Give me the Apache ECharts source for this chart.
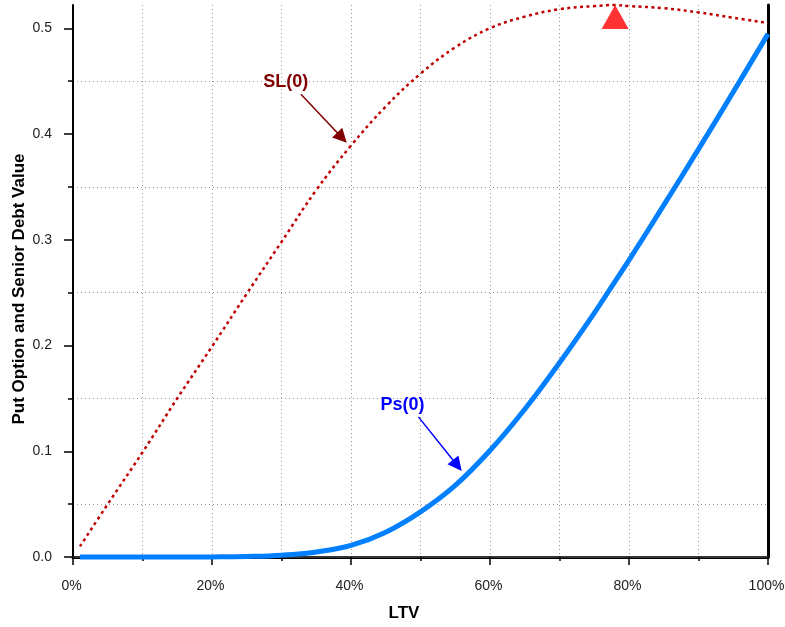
<!DOCTYPE html>
<html><head><meta charset="utf-8">
<script src="https://cdn.jsdelivr.net/npm/echarts@6/dist/echarts.min.js"></script>
<style>html,body{margin:0;padding:0;background:#fff}#c{width:785px;height:627px}</style>
</head><body><div id="c"></div>
<script>
// LTV in percent
const ltv = [1, 5, 10, 15, 20, 25, 30, 35, 40, 45, 50, 55, 60, 65, 70, 75, 78, 80, 85, 90, 95, 100];
const slValues = [0.010, 0.050, 0.099, 0.150, 0.199, 0.249, 0.298, 0.347, 0.389, 0.426, 0.457, 0.482, 0.500, 0.511, 0.518, 0.521, 0.522, 0.521, 0.519, 0.515, 0.510, 0.505];
const psValues = [0.000, 0.000, 0.000, 0.000, 0.0001, 0.0005, 0.0017, 0.0048, 0.0110, 0.0235, 0.0427, 0.0677, 0.1007, 0.1397, 0.1837, 0.2307, 0.2607, 0.2807, 0.3327, 0.3857, 0.4397, 0.4947];
const yMajorTicks = [0, 0.1, 0.2, 0.3, 0.4, 0.5];
const yMinorTicks = [0.05, 0.15, 0.25, 0.35, 0.45];
const peakPoint = [78, 0.522];
const slNote = { text: 'SL(0)', at: [30.6, 0.449], from: [32.8, 0.4377], to: [38.7, 0.3965] };
const psNote = { text: 'Ps(0)', at: [47.4, 0.1435], from: [49.7, 0.1325], to: [55.3, 0.0866] };

const FONT = "'Liberation Sans', Arial, sans-serif";
const gridLine = { show: true, lineStyle: { type: [1, 3], color: '#999', width: 1 } };

function zip(xs, ys) { return xs.map((x, i) => [x, ys[i]]); }

function note(n, color) {
  return {
    markPoint: {
      silent: true, symbol: 'rect', symbolSize: 1, itemStyle: { color: 'rgba(0,0,0,0)' },
      label: { show: true, position: 'inside', formatter: n.text, color: color, fontWeight: 'bold', fontSize: 18, fontFamily: FONT },
      data: [{ coord: n.at }]
    },
    markLine: {
      silent: true, symbol: ['none', 'triangle'], symbolSize: 14,
      label: { show: false },
      lineStyle: { color: color, width: 1.5, type: 'solid' },
      itemStyle: { color: color },
      data: [[{ coord: n.from }, { coord: n.to }]]
    }
  };
}

const chart = echarts.init(document.getElementById('c'));
chart.setOption({
  animation: false,
  backgroundColor: '#fff',
  grid: { left: 73, right: 17, top: 5, bottom: 70, containLabel: false, outerBoundsMode: 'none' },
  xAxis: [{
    type: 'value', min: 0, max: 100, interval: 20, position: 'bottom',
    name: 'LTV', nameLocation: 'middle', nameGap: 48,
    nameTextStyle: { fontWeight: 'bold', fontSize: 17, color: '#000', fontFamily: FONT, padding: [0, 33, 0, 0] },
    axisLine: { show: true, lineStyle: { color: '#000', width: 3 } },
    axisTick: { show: true, length: 8, lineStyle: { color: '#000', width: 1.5 } },
    minorTick: { show: true, splitNumber: 2, length: 4, lineStyle: { color: '#000', width: 1.5 } },
    axisLabel: { formatter: '{value}%', fontSize: 14, color: '#222', margin: 22, fontFamily: FONT, padding: [0, 3, 0, 0] },
    splitLine: gridLine,
    minorSplitLine: gridLine
  }, {
    type: 'value', min: 0, max: 100, position: 'top',
    axisLine: { show: true, lineStyle: { color: '#333', width: 2 } },
    axisTick: { show: false }, axisLabel: { show: false }, splitLine: { show: false }
  }],
  yAxis: [{
    type: 'value', min: 0, max: 0.522, interval: 0.1, position: 'left',
    name: 'Put Option and Senior Debt Value', nameLocation: 'middle', nameGap: 45, nameRotate: 90, nameMoveOverlap: false,
    nameTextStyle: { fontWeight: 'bold', fontSize: 17, color: '#000', fontFamily: FONT, padding: [0, 16, 0, 0] },
    axisLine: { show: true, lineStyle: { color: '#000', width: 2 } },
    axisTick: { show: true, length: 9, customValues: yMajorTicks, lineStyle: { color: '#000', width: 1.5 } },
    axisLabel: { customValues: yMajorTicks, formatter: v => v.toFixed(1), fontSize: 14, color: '#222', margin: 21, fontFamily: FONT },
    splitLine: { show: false }
  }, {
    type: 'value', min: 0, max: 0.522, interval: 0.05, position: 'left',
    axisLine: { show: false },
    axisTick: { show: true, length: 5, customValues: yMinorTicks, lineStyle: { color: '#000', width: 1.5 } },
    axisLabel: { show: false },
    splitLine: gridLine
  }, {
    type: 'value', min: 0, max: 0.522, position: 'right',
    axisLine: { show: true, lineStyle: { color: '#000', width: 3 } },
    axisTick: { show: false }, axisLabel: { show: false }, splitLine: { show: false }
  }],
  series: [
    Object.assign({
      name: 'SL(0)', type: 'line', data: zip(ltv, slValues), smooth: 0.4, showSymbol: false, clip: false,
      lineStyle: { color: '#c00000', width: 2.5, type: [3, 3.5] }, itemStyle: { color: '#c00000' }, z: 3
    }, note(slNote, '#800000')),
    Object.assign({
      name: 'Ps(0)', type: 'line', data: zip(ltv, psValues), smooth: 0.4, showSymbol: false, clip: false,
      lineStyle: { color: '#0080ff', width: 5 }, itemStyle: { color: '#0080ff' }, z: 4
    }, note(psNote, '#0000ff')),
    {
      name: 'peak', type: 'scatter', data: [peakPoint], symbol: 'triangle', symbolSize: [27, 24], symbolOffset: [0, 12],
      itemStyle: { color: '#ff0000' }, clip: false, z: 5, silent: true
    }
  ]
});
</script></body></html>
